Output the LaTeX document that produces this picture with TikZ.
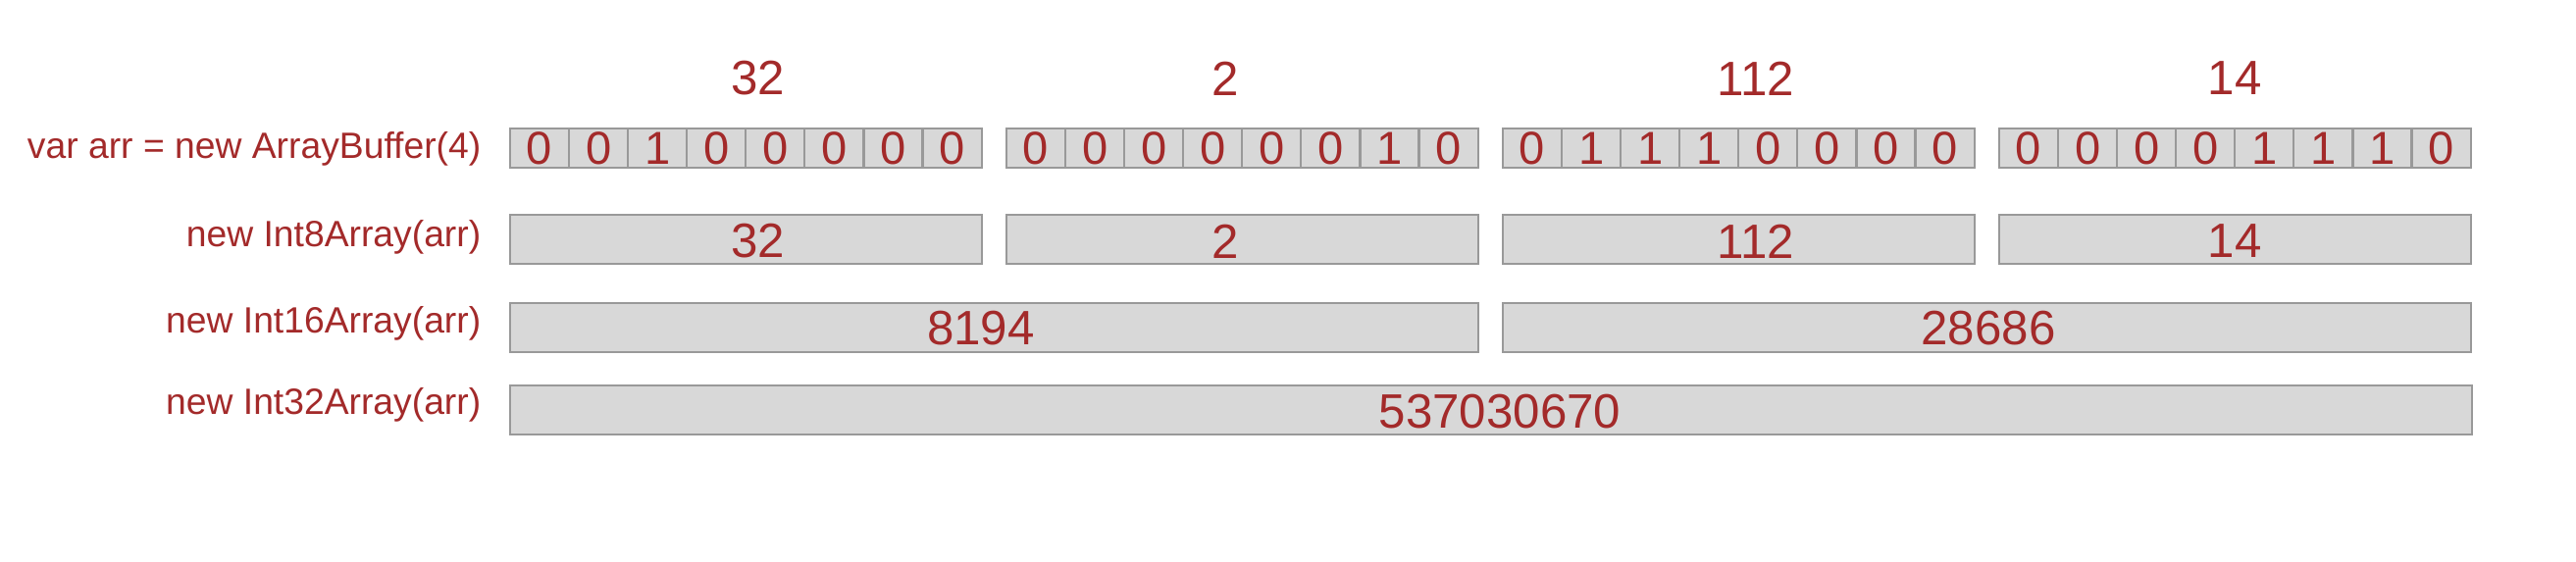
\documentclass[tikz,border=0pt]{standalone}
\usepackage{fontspec}
\setmainfont{Liberation Sans}
\definecolor{txt}{HTML}{A32A2A}
\definecolor{boxfill}{HTML}{D8D8D8}
\definecolor{boxline}{HTML}{999999}
\begin{document}
\begin{tikzpicture}[x=0.01cm,y=-0.01cm,
  cell/.style={draw=boxline, fill=boxfill, line width=0.6pt, inner sep=0pt,
    minimum width=0.6cm, minimum height=0.4cm, anchor=north west,
    text=txt, font=\fontsize{13.4pt}{14pt}\selectfont},
  bar/.style={draw=boxline, fill=boxfill, line width=0.6pt, inner sep=0pt,
    minimum height=0.5cm, anchor=north west},
  num/.style={text=txt, inner sep=0pt, font=\fontsize{14pt}{16pt}\selectfont},
  lbl/.style={text=txt, inner sep=0pt, anchor=east, font=\fontsize{10.6pt}{12pt}\selectfont}
]
\useasboundingbox (0,0) rectangle (2626,572);
% top byte values
\node[num] (h0) at (773,80) {32};
\node[num] (h1) at (1249,80) {2};
\node[num] (h2) at (1790,80) {112};
\node[num] (h3) at (2278,80) {14};
% row labels
\node[lbl] (l1) at (491,152) {var arr = new ArrayBuffer(4)};
\node[lbl] (l2) at (491,242) {new Int8Array(arr)};
\node[lbl] (l3) at (491,330) {new Int16Array(arr)};
\node[lbl] (l4) at (491,413) {new Int32Array(arr)};
% bits
\foreach \b/\bits in {0/{0,0,1,0,0,0,0,0},1/{0,0,0,0,0,0,1,0},2/{0,1,1,1,0,0,0,0},3/{0,0,0,0,1,1,1,0}}{
  \foreach \v [count=\i from 0] in \bits {
    \node[cell] (c\b-\i) at (519+506*\b+60.07*\i,130) {\v};
  }
}
% Int8 row
\foreach \b in {0,1,2,3}{
  \node[bar, minimum width=4.806cm] (e\b) at (519+506*\b,218) {};
}
\node[num] (e0t) at (773,246) {32};
\node[num] (e1t) at (1249,246) {2};
\node[num] (e2t) at (1790,246) {112};
\node[num] (e3t) at (2278,246) {14};
% Int16 row
\node[bar, minimum width=9.866cm] (s0) at (519,308) {};
\node[bar, minimum width=9.866cm] (s1) at (1531,308) {};
\node[num] (s0t) at (1000,335) {8194};
\node[num] (s1t) at (2027,335) {28686};
% Int32 row
\node[bar, minimum width=19.986cm] (w0) at (519,392) {};
\node[num] (w0t) at (1529,420) {537030670};
\end{tikzpicture}
\end{document}
